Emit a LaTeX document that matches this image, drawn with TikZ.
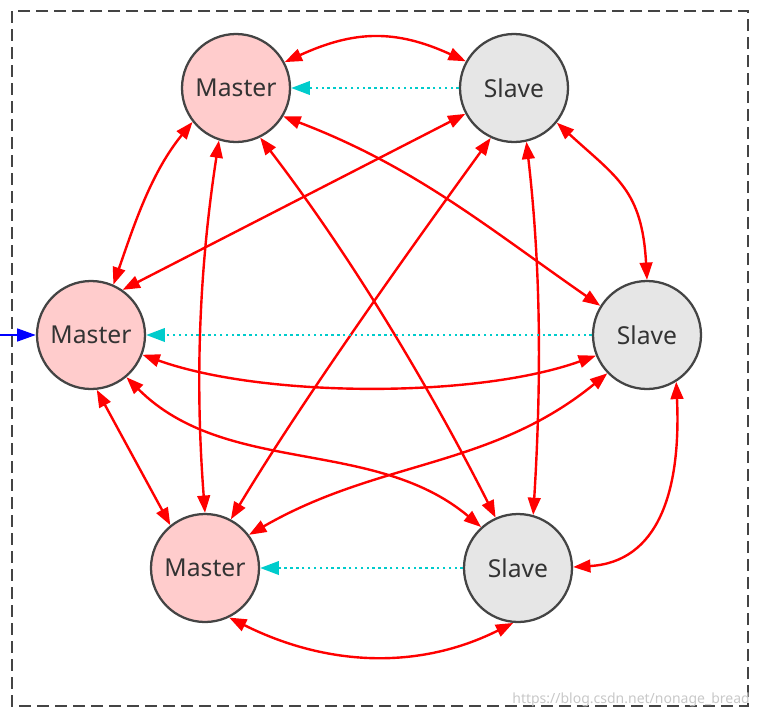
\documentclass[tikz,border=0pt]{standalone}
\usepackage{fontspec}
\newfontfamily\nodefont{Noto Sans}
\usetikzlibrary{arrows.meta}

\tikzset{
  master/.style={circle,draw={rgb,255:red,68;green,68;blue,68},line width=1.7pt,
    fill={rgb,255:red,255;green,204;blue,204},minimum size=81pt,inner sep=0pt,
    font=\nodefont\fontsize{18.5}{22}\selectfont,text={rgb,255:red,51;green,51;blue,51}},
  slave/.style={master,fill={rgb,255:red,230;green,230;blue,230}},
  link/.style={draw={rgb,255:red,255;green,0;blue,0},line width=1.8pt,
    {Triangle[length=13pt,width=9.5pt]}-{Triangle[length=13pt,width=9.5pt]}},
  replica/.style={draw={rgb,255:red,0;green,204;blue,204},line width=1.8pt,
    dash pattern=on 1.8pt off 2.6pt,-{Triangle[length=14pt,width=10pt]}},
  entry/.style={draw={rgb,255:red,0;green,0;blue,255},line width=1.8pt,
    -{Triangle[length=14pt,width=9.5pt]}},
  frame/.style={draw={rgb,255:red,68;green,68;blue,68},line width=1.9pt,dash pattern=on 9pt off 4.5pt},
  watermark/.style={font=\nodefont\fontsize{10.5}{12}\selectfont,text={rgb,255:red,200;green,200;blue,200},inner sep=0pt}
}

\begin{document}
\begin{tikzpicture}[x=0.75pt,y=0.75pt,yscale=-1,xscale=1]
\useasboundingbox (0,0) rectangle (760,718);

%Dashed Frame
\draw[frame] (12,11) rectangle (748,706);

%Shape: Circles
\node[master] (mt) at (236,88) {Master};
\node[slave] (st) at (514,88) {Slave};
\node[master] (ml) at (91,335) {Master};
\node[slave] (sr) at (647,335) {Slave};
\node[master] (mb) at (205,568) {Master};
\node[slave] (sb) at (518,568) {Slave};

%Curve Lines
\draw[link] (mt.28) .. controls +(70,-32) and +(-70,-32) .. (st.151);
\draw[link] (mt.218) .. controls +(-41,50) and +(21,-61) .. (ml.66);
\draw[link] (mt.-108) .. controls +(-20,130) and +(-10,-130) .. (mb.90);
\draw[link] (mt.-64) .. controls +(91,119) and +(-68,-134) .. (sb.114);
\draw[link] (mt.-31) .. controls +(131,50) and +(-115,-80) .. (sr.148);
\draw[link] (st.208) -- (ml.55);
\draw[link] (st.-115) .. controls +(-82,113) and +(72,-120) .. (mb.62);
\draw[link] (st.-39) .. controls +(60,55) and +(-5,-90) .. (sr.90);
\draw[link] (st.-77) .. controls +(15,130) and +(8,-130) .. (sb.74);
\draw[link] (ml.-21) .. controls +(120,43) and +(-120,43) .. (sr.202);
\draw[link] (ml.-84) -- (mb.129);
\draw[link] (ml.-50) .. controls +(99,99) and +(-107,-90) .. (sb.132);
\draw[link] (mb.37) .. controls +(130,-75) and +(-116,95) .. (sr.224);
\draw[link] (mb.-64) .. controls +(96,48) and +(-96,48) .. (sb.-95);
\draw[link] (sr.-58) .. controls +(5,110) and +(85,-5) .. (sb.1);

%Dotted Lines
\draw[replica] (st.west) -- (mt.east);
\draw[replica] (sr.west) -- (ml.east);
\draw[replica] (sb.west) -- (mb.east);

%Straight Lines
\coordinate (client) at (0,335);
\draw[entry] (client) -- (ml.west);

% Text Node
\node[watermark,anchor=south east] (mark) at (750,707) {https://blog.csdn.net/nonage\_bread};

\end{tikzpicture}
\end{document}
